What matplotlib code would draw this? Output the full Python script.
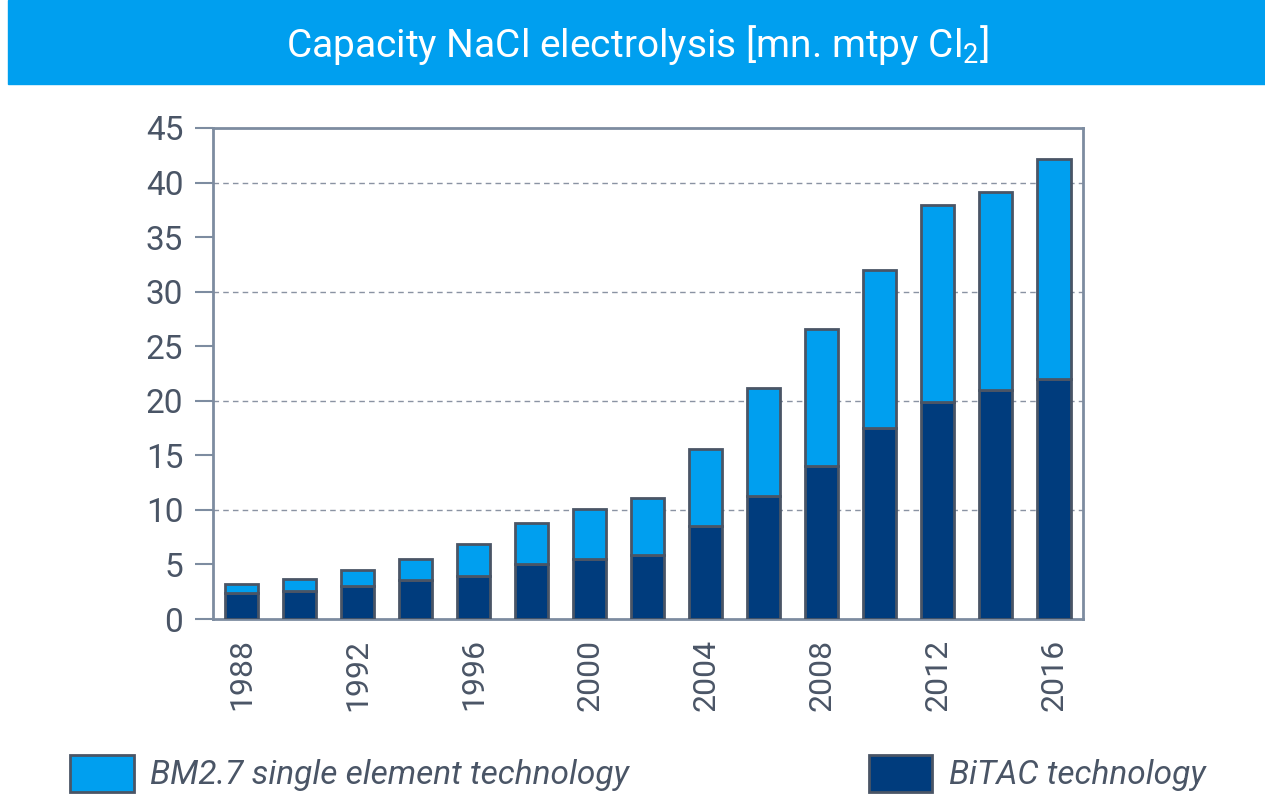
import matplotlib
matplotlib.use("Agg")
import matplotlib.pyplot as plt
from matplotlib.patches import Rectangle

plt.rcParams['font.family'] = ['Roboto', 'DejaVu Sans']
plt.rcParams['mathtext.fontset'] = 'custom'
plt.rcParams['mathtext.rm'] = 'Roboto'

# data
years = [1988, 1990, 1992, 1994, 1996, 1998, 2000, 2002, 2004, 2006, 2008, 2010, 2012, 2014, 2016]
total = [3.2, 3.7, 4.5, 5.5, 6.9, 8.8, 10.1, 11.1, 15.6, 21.2, 26.6, 32.0, 37.9, 39.1, 42.2]
bitac = [2.4, 2.6, 3.0, 3.6, 3.9, 5.0, 5.5, 5.9, 8.5, 11.3, 14.0, 17.5, 19.9, 21.0, 22.0]
bm27 = [t - b for t, b in zip(total, bitac)]
tick_years = [1988, 1992, 1996, 2000, 2004, 2008, 2012, 2016]
y_ticks = list(range(0, 50, 5))

light = "#009FEF"
dark = "#003C7D"
edge = "#4A5566"
txt = "#4A5566"
axcol = "#7D8CA0"

fig = plt.figure(figsize=(12.65, 7.98), dpi=100)
ax = fig.add_axes([0.168, 0.2243, 0.688, 0.6153])

b1 = ax.bar(years, bitac, width=1.15, color=dark, edgecolor=edge, linewidth=2, zorder=3)
b2 = ax.bar(years, bm27, bottom=bitac, width=1.15, color=light, edgecolor=edge, linewidth=2, zorder=3)

ax.set_xlim(1987, 2017)
ax.set_ylim(0, 45)
ax.set_yticks(y_ticks)
ax.set_yticklabels([str(v) for v in y_ticks], fontsize=24, color=txt)
ax.set_xticks(tick_years)
ax.set_xticklabels([str(v) for v in tick_years], rotation=90, fontsize=23, color=txt)
ax.tick_params(axis='x', length=0, pad=14)
ax.tick_params(axis='y', length=13, width=1.5, color=axcol, pad=8)
for v in [10, 20, 30, 40]:
    ax.axhline(v, color="#8A93A3", linestyle=(0, (4, 3)), linewidth=1, zorder=1)
for s in ax.spines.values():
    s.set_color(axcol)
    s.set_linewidth(2)

# title bar
fig.patches.append(Rectangle((8 / 1265, 1 - 84 / 798), 1 - 8 / 1265, 84 / 798,
                             transform=fig.transFigure, color=light, zorder=0))
fig.text(0.504, 0.943, r"Capacity NaCl electrolysis [mn. mtpy Cl$_2$]",
         ha='center', va='center', color='white', fontsize=28)

legprops = {'style': 'italic', 'size': 24}
leg1 = fig.legend([b2], ["BM2.7 single element technology"], loc='center left',
                  bbox_to_anchor=(0.032, 0.031), frameon=False, handlelength=1.9,
                  handleheight=1.35, handletextpad=0.5, prop=legprops)
leg2 = fig.legend([b1], ["BiTAC technology"], loc='center left',
                  bbox_to_anchor=(0.663, 0.031), frameon=False, handlelength=1.9,
                  handleheight=1.35, handletextpad=0.5, prop=legprops)
for lg in (leg1, leg2):
    for t in lg.get_texts():
        t.set_color(txt)

fig.savefig("out.png", dpi=100)
